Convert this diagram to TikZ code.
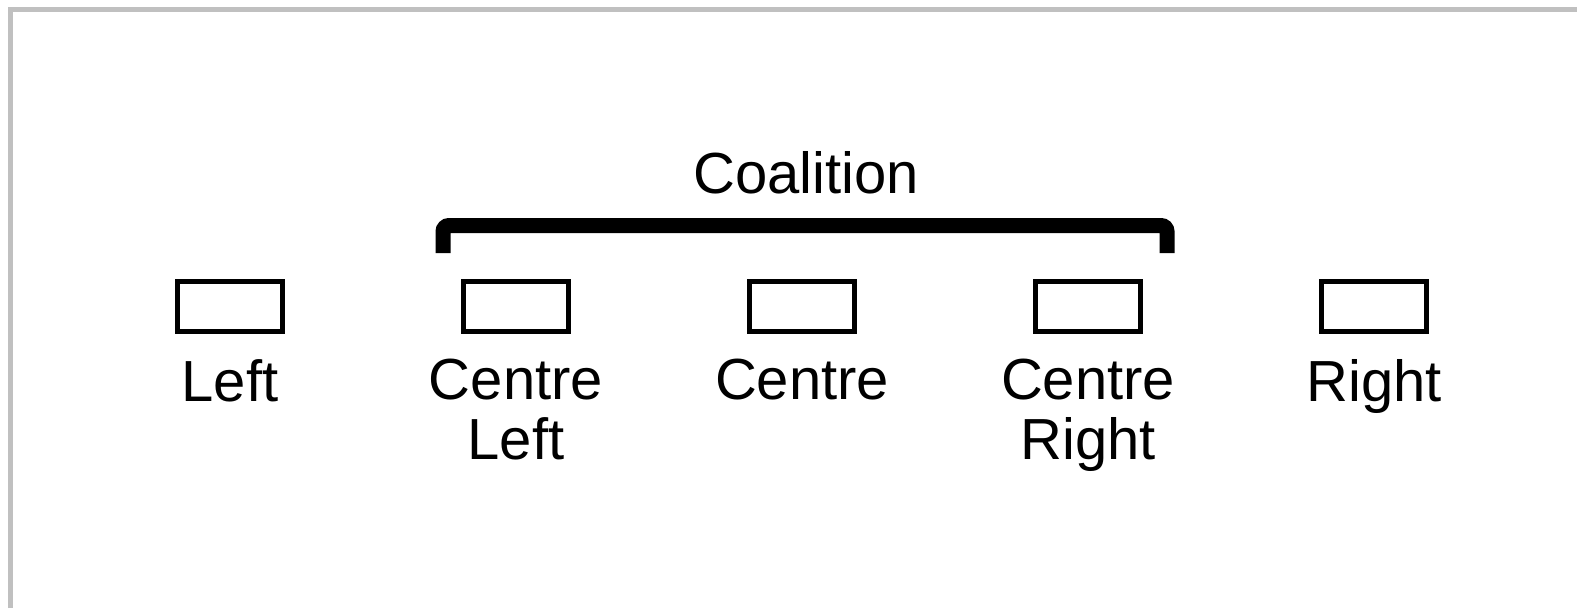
\documentclass[tikz,border=0pt]{standalone}
\usepackage{fontspec}
\setmainfont{Liberation Sans}
\usepackage{tikz}

\definecolor{framegray}{RGB}{192,192,192}

\tikzset{
    party/.style={draw, line width=0.1cm, minimum width=2.1cm, minimum height=1cm, inner sep=0pt},
    partylabel/.style={anchor=north, align=center, inner sep=0pt, font=\fontsize{33}{34}\selectfont},
    brace/.style={line width=0.3cm, rounded corners=0.12cm}
}

\begin{document}
\begin{tikzpicture}[x=0.02cm, y=-0.02cm]
    % Fix the size of the picture
    \useasboundingbox (0,0) rectangle (1577,608);

    % Grey frame on the left and top
    \draw[framegray, line width=0.1cm] (10.5,608) -- (10.5,9.5) -- (1577,9.5);

    % The five parties, boxes with their names below
    \foreach \n/\x/\txt in {L/230/Left, CL/516/{Centre\\Left}, C/802/Centre, CR/1088/{Centre\\Right}, R/1374/Right} {
        \node[party] (box\n) at (\x,306.5) {};
        \node[partylabel] (lab\n) at (\x,359) {\txt};
    }

    % Bracket over the coalition
    \coordinate (brL) at (443,253);
    \coordinate (brR) at (1167,253);
    \draw[brace] (brL) -- (443,225.5) -- (1167,225.5) -- (brR);
    \node[anchor=base, inner sep=0pt, font=\fontsize{33}{34}\selectfont] (coal) at (806,193) {Coalition};

\end{tikzpicture}
\end{document}
